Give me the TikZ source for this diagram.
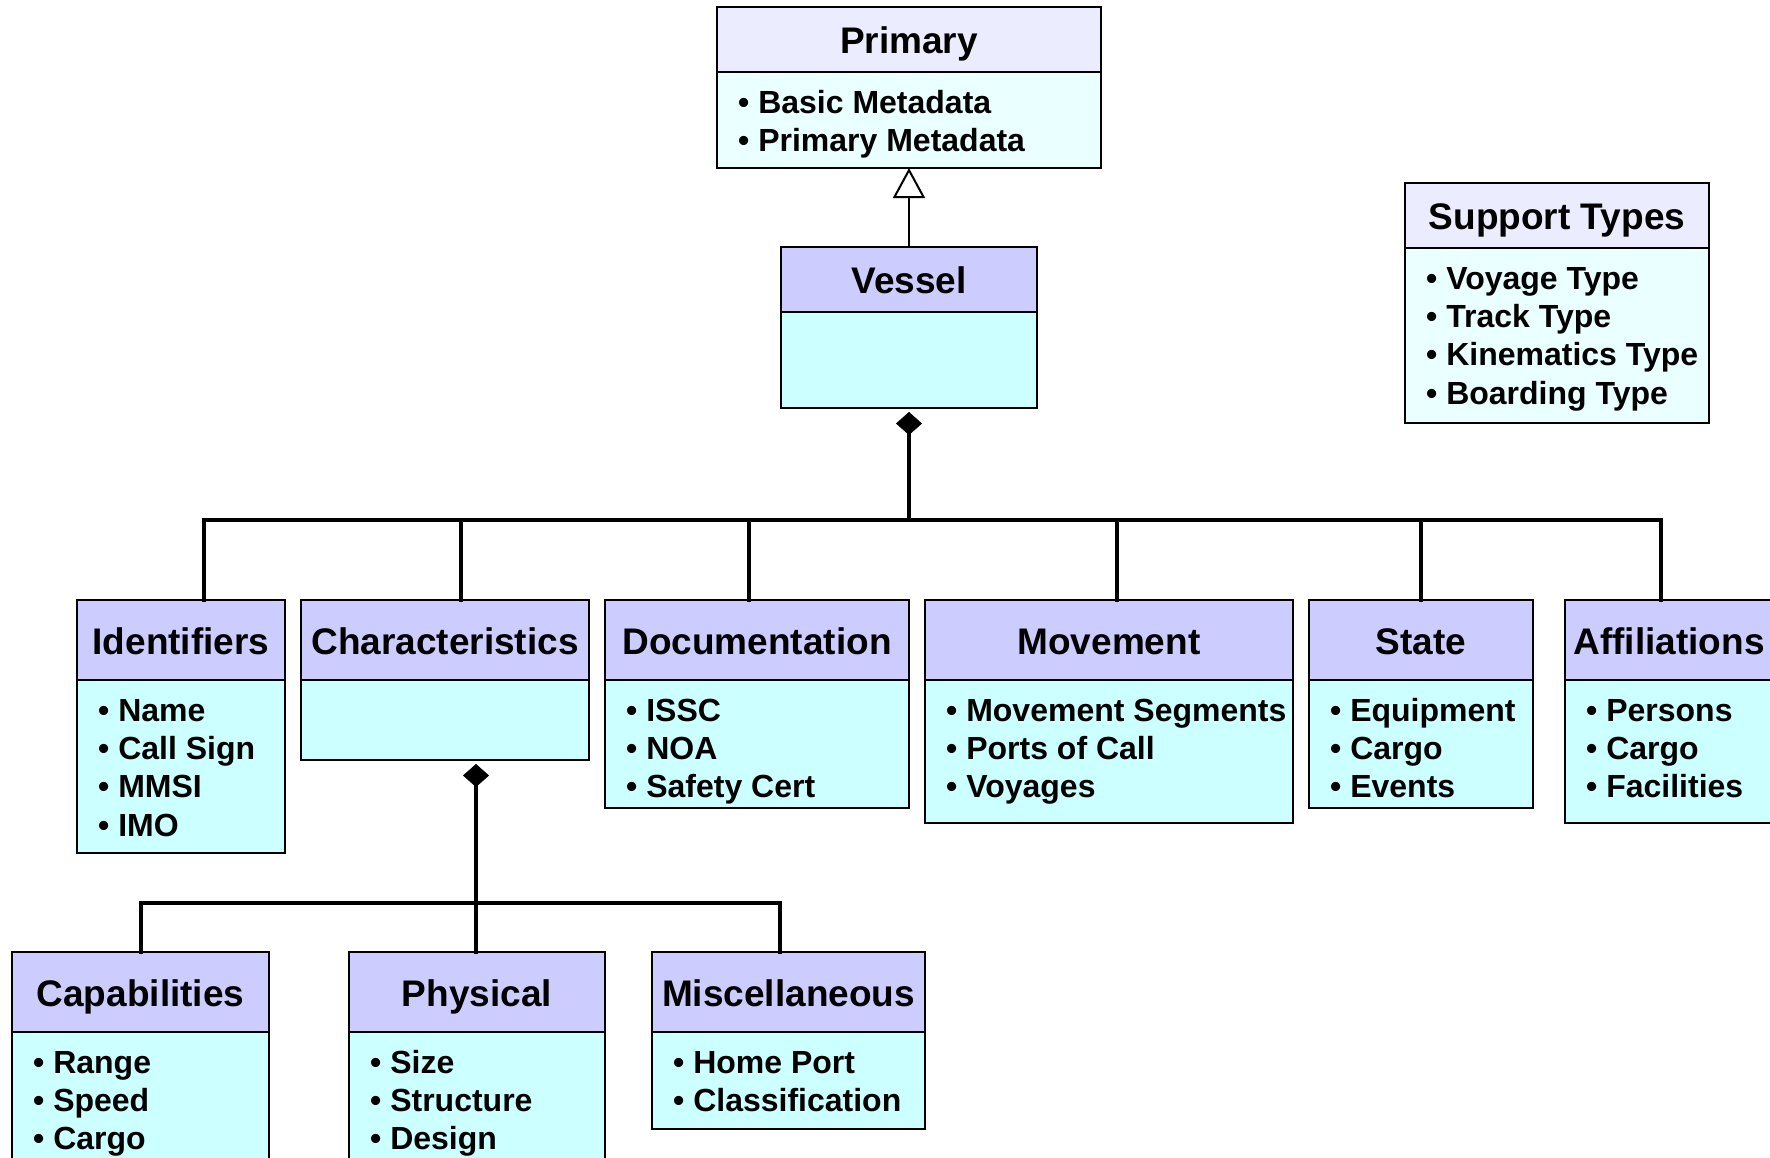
\documentclass[tikz,border=0pt]{standalone}
\usepackage{fontspec}
\setmainfont{Liberation Sans}
\usetikzlibrary{arrows.meta}

\definecolor{headplain}{RGB}{204,204,255}
\definecolor{bodyplain}{RGB}{204,255,255}
\definecolor{headpale}{RGB}{236,236,255}
\definecolor{bodypale}{RGB}{234,255,255}

\newcommand\titlefont{\fontsize{37}{44}\selectfont\bfseries}
\newcommand\itemfont{\fontsize{32}{38}\selectfont\bfseries}

\tikzset{
  classhead/.style={draw=black, line width=2pt, inner sep=0pt, outer sep=0pt},
  classbody/.style={draw=black, line width=2pt, inner sep=0pt, outer sep=0pt},
  classtitle/.style={anchor=base, font=\titlefont, inner sep=0pt},
  classitem/.style={anchor=base west, font=\itemfont, inner sep=0pt},
  bus/.style={draw=black, line width=4pt, line join=miter, line cap=rect},
  inherit/.style={draw=black, line width=2pt,
    -{Triangle[fill=white, length=30pt, width=32pt]}},
  compose/.style={draw=black, line width=4pt,
    {Diamond[length=23pt, width=26pt, line width=0.5pt]}-, shorten <=4pt},
}

% UML class box: #1 palette, #2 name, #3 left, #4 top, #5 right,
% #6 divider, #7 bottom, #8 title, #9 comma separated items
\newcommand\umlclass[9]{%
  \node[classhead, fill=head#1, anchor=north west,
        minimum width={#5pt-#3pt}, minimum height={#6pt-#4pt}] (#2) at (#3,-#4) {};
  \node[classbody, fill=body#1, anchor=north west,
        minimum width={#5pt-#3pt}, minimum height={#7pt-#6pt}] (#2-body) at (#3,-#6) {};
  \node[classtitle] (#2-title) at ([yshift=-14pt]#2.center) {#8};
  \def\itemlist{#9}%
  \ifx\itemlist\empty\else
    \foreach \txt [count=\k] in {#9} {
      \node[classitem] (#2-item\k) at ({#3+21},{-(#6+41+(\k-1)*38.4)}) {\textbullet\ \txt};
    }
  \fi
}

\begin{document}
\begin{tikzpicture}[x=1pt, y=1pt]
  \useasboundingbox (0,0) rectangle (1770,-1157);
  \fill[white] (0,0) rectangle (1770,-1157);
  \clip (0,0) rectangle (1770,-1157);

  % top level
  \umlclass{pale}{primary}{717}{7}{1101}{72}{168}{Primary}{Basic Metadata, Primary Metadata}
  \umlclass{pale}{support}{1405}{183}{1709}{248}{423}{Support Types}{Voyage Type, Track Type, Kinematics Type, Boarding Type}
  \umlclass{plain}{vessel}{781}{247}{1037}{312}{408}{Vessel}{}

  % second level
  \umlclass{plain}{identifiers}{77}{600}{285}{680}{853}{Identifiers}{Name, Call Sign, MMSI, IMO}
  \umlclass{plain}{characteristics}{301}{600}{589}{680}{760}{Characteristics}{}
  \umlclass{plain}{documentation}{605}{600}{909}{680}{808}{Documentation}{ISSC, NOA, Safety Cert}
  \umlclass{plain}{movement}{925}{600}{1293}{680}{823}{Movement}{Movement Segments, Ports of Call, Voyages}
  \umlclass{plain}{state}{1309}{600}{1533}{680}{808}{State}{Equipment, Cargo, Events}
  \umlclass{plain}{affiliations}{1565}{600}{1773}{680}{823}{Affiliations}{Persons, Cargo, Facilities}

  % third level
  \umlclass{plain}{capabilities}{12}{952}{269}{1032}{1180}{Capabilities}{Range, Speed, Cargo}
  \umlclass{plain}{physical}{349}{952}{605}{1032}{1180}{Physical}{Size, Structure, Design}
  \umlclass{plain}{miscellaneous}{652}{952}{925}{1032}{1129}{Miscellaneous}{Home Port, Classification}

  % generalisation
  \draw[inherit] (vessel.north) -- (primary-body.south);

  % composition of Vessel
  \coordinate (trunk) at (909,-520);
  \coordinate (j-ident) at (204,-520);
  \coordinate (j-char) at (461,-520);
  \coordinate (j-doc) at (749,-520);
  \coordinate (j-move) at (1117,-520);
  \coordinate (j-state) at (1421,-520);
  \coordinate (j-affil) at (1661,-520);
  \draw[compose] (vessel-body.south) -- (trunk);
  \draw[bus] (j-ident |- identifiers.north) -- (j-ident) -- (j-affil) -- (j-affil |- affiliations.north);
  \draw[bus] (j-char) -- (j-char |- characteristics.north);
  \draw[bus] (j-doc) -- (j-doc |- documentation.north);
  \draw[bus] (j-move) -- (j-move |- movement.north);
  \draw[bus] (j-state) -- (j-state |- state.north);

  % composition of Characteristics
  \coordinate (trunk2) at (476,-903);
  \coordinate (j-cap) at (141,-903);
  \coordinate (j-misc) at (780,-903);
  \draw[compose] (trunk2 |- characteristics-body.south) -- (trunk2);
  \draw[bus] (j-cap |- capabilities.north) -- (j-cap) -- (j-misc) -- (j-misc |- miscellaneous.north);
  \draw[bus] (trunk2) -- (trunk2 |- physical.north);
\end{tikzpicture}
\end{document}
